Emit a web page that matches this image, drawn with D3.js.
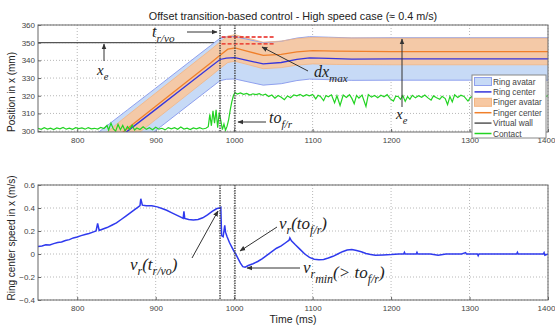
<!DOCTYPE html>
<html>
<head>
<meta charset="utf-8">
<script src="https://cdn.jsdelivr.net/npm/d3@7"></script>
<style>
  body { margin: 0; background: #fff; }
  svg { font-family: "Liberation Sans", Arial, sans-serif; }
</style>
</head>
<body>
<div id="chart"></div>
<script>
// ---- data ----
var xTicks = [800, 900, 1000, 1100, 1200, 1300, 1400];
var posTicks = [300, 310, 320, 330, 340, 350, 360];
var speedTicks = [-0.4, -0.2, 0, 0.2, 0.4, 0.6];

var virtualWall = 350;
var ringRadius = 12;
var fingerRadius = 7.5;
var tRvo = 982;   // t_r/vo
var toFr = 1001;  // to_f/r
var dxMaxLevels = [353.2, 349.3];
var dxMaxSpan = [984, 1052];

// ring center position (ms, mm)
var ringCenter = [
  [815, 283.2], [864, 300], [900, 312.3], [940, 326.1], [970, 336.4], [982, 340.5],
  [990, 341.3], [1001, 341.5], [1015, 340.1], [1037, 338], [1060, 338.8],
  [1080, 340.6], [1096, 341.4], [1120, 341.1], [1150, 340.7], [1200, 340.8],
  [1300, 340.8], [1400, 340.8]
];
// finger center position (ms, mm)
var fingerCenter = [
  [812, 282.5], [860, 300], [900, 314], [940, 328], [970, 338.5], [982, 342.9],
  [992, 346.3], [1001, 347], [1015, 345.4], [1037, 342.8], [1060, 343.4],
  [1080, 344.8], [1100, 345.5], [1130, 345.2], [1200, 345], [1400, 345]
];
// contact position (ms, mm)
var contact = [
  [750,301.6],[754,301.0],[758,301.9],[762,301.2],[766,301.7],[770,300.9],[774,301.8],[778,301.3],
  [782,302.1],[786,301.1],[790,301.7],[794,301.0],[798,301.9],[802,301.4],[806,301.8],[810,301.1],
  [814,302.0],[818,301.3],[822,301.6],[826,301.2],[830,302.1],[834,301.5],[838,303.2],[840,300.6],
  [843,304.5],[846,301.2],[849,300.0],[852,303.8],[855,300.8],[858,303.2],[861,300.2],[864,302.6],
  [867,301.0],[870,303.4],[873,300.6],[876,301.8],[880,300.9],[884,302.4],[888,301.0],[892,301.9],
  [896,300.8],[900,302.2],[904,301.1],[908,301.6],[912,300.7],[916,302.0],[920,301.3],[924,301.9],
  [928,301.0],[932,302.3],[936,301.2],[940,301.7],[944,300.9],[948,301.8],[952,301.3],[956,302.0],
  [960,301.2],[964,301.6],[967,302.5],[969,309.5],[971,303.0],[973,311.5],[975,304.5],[977,312.0],
  [979,302.0],[981,310.5],[983,306.0],[985,300.8],[987,304.0],[989,300.5],[991,302.8],[993,306.5],
  [995,312.0],[997,316.5],[999,320.0],[1001,321.8],[1004,321.0],[1008,321.6],[1012,320.8],[1016,321.3],
  [1020,320.4],[1024,321.1],[1028,320.6],[1032,321.2],[1036,320.3],[1040,320.9],[1044,319.6],[1048,320.4],
  [1052,318.6],[1056,320.1],[1060,319.2],[1064,317.8],[1068,319.9],[1072,318.9],[1076,320.5],[1080,320.0],
  [1084,320.8],[1088,319.7],[1092,320.6],[1096,319.9],[1100,320.7],[1104,318.2],[1107,320.3],[1110,319.6],
  [1114,317.2],[1117,320.1],[1120,319.4],[1124,320.5],[1128,316.0],[1131,320.0],[1135,314.5],[1139,320.4],
  [1143,319.0],[1147,320.6],[1150,318.5],[1153,315.5],[1156,320.2],[1159,318.6],[1163,320.4],[1168,314.0],
  [1171,320.7],[1175,319.2],[1179,320.1],[1183,318.9],[1187,320.3],[1191,319.4],[1195,320.6],[1199,318.2],
  [1203,317.0],[1206,319.8],[1209,319.6],[1212,318.0],[1215,320.1],[1218,316.8],[1221,319.5],[1224,318.0],
  [1227,320.2],[1231,318.8],[1235,320.0],[1239,319.1],[1243,320.4],[1247,318.8],[1251,317.5],[1254,319.9],
  [1258,318.9],[1262,318.0],[1265,319.7],[1269,318.4],[1272,315.0],[1275,319.6],[1278,316.5],[1281,320.5],
  [1285,319.0],[1289,320.3],[1293,319.6],[1298,317.0],[1301,318.9],[1305,320.1],[1309,319.2],[1313,320.6],
  [1317,319.7],[1321,320.2],[1325,319.0],[1329,320.4],[1333,319.5],[1337,320.0],[1341,317.5],[1344,319.8],
  [1348,318.6],[1352,320.3],[1356,319.4],[1360,320.1],[1364,319.0],[1368,320.5],[1372,319.6],[1376,320.2],
  [1380,319.3],[1384,320.4],[1388,319.8],[1392,320.3],[1396,319.5],[1400,320.0]
];
// ring center speed (ms, m/s)
var speed = [
  [750,0.065],[755,0.07],[760,0.08],[765,0.078],[770,0.09],[775,0.1],[780,0.105],[785,0.118],
  [790,0.125],[795,0.14],[800,0.148],[805,0.16],[810,0.17],[815,0.178],[820,0.19],[824,0.2],
  [826,0.265],[828,0.205],[832,0.215],[838,0.23],[844,0.25],[850,0.27],[856,0.3],[862,0.33],
  [868,0.36],[874,0.39],[878,0.41],[880,0.42],[881,0.48],[883,0.425],[888,0.42],[895,0.42],
  [902,0.41],[908,0.395],[914,0.38],[920,0.36],[926,0.34],[932,0.32],[935,0.31],[936,0.37],
  [937,0.31],[942,0.3],[948,0.295],[954,0.3],[960,0.315],[966,0.34],[972,0.37],[978,0.395],
  [982,0.4],[983,0.405],[984,0.16],[986,0.15],[988,0.25],[989,0.19],[991,0.15],[994,0.1],
  [997,0.06],[1000,0.02],[1002,0.0],[1005,-0.04],[1008,-0.08],[1011,-0.11],[1014,-0.115],[1018,-0.1],
  [1024,-0.085],[1030,-0.065],[1036,-0.04],[1042,-0.01],[1048,0.02],[1054,0.05],[1060,0.07],[1066,0.1],
  [1070,0.12],[1071,0.14],[1073,0.115],[1078,0.08],[1084,0.04],[1090,0.0],[1096,-0.03],[1102,-0.045],
  [1108,-0.05],[1114,-0.048],[1120,-0.035],[1126,-0.02],[1132,0.0],[1138,0.02],[1144,0.035],[1150,0.04],
  [1156,0.03],[1162,0.02],[1168,0.005],[1174,-0.005],[1180,-0.01],[1190,-0.008],[1200,-0.005],[1210,0.0],
  [1216,0.0],[1217,0.015],[1218,0.0],[1232,0.0],[1233,0.015],[1234,0.0],[1250,0.0],[1260,-0.01],
  [1270,0.0],[1290,0.0],[1295,0.012],[1296,0.0],[1310,0.0],[1311,-0.015],[1312,0.0],[1360,0.0],
  [1361,0.015],[1362,0.0],[1380,0.0],[1394,0.0],[1395,0.012],[1396,-0.01],[1400,0.0]
];

// ---- layout ----
const W = 555, H = 325;
const left = 38, right = 548;
const top1 = 25, bot1 = 132;
const top2 = 185, bot2 = 300;

var svg = d3.select("#chart").append("svg")
    .attr("width", W)
    .attr("height", H);

var defs = svg.append("defs");
defs.append("clipPath").attr("id", "clip1").append("rect")
    .attr("x", left).attr("y", top1).attr("width", right - left).attr("height", bot1 - top1);
defs.append("clipPath").attr("id", "clip2").append("rect")
    .attr("x", left).attr("y", top2).attr("width", right - left).attr("height", bot2 - top2);
var marker = defs.append("marker")
    .attr("id", "arrow")
    .attr("viewBox", "0 0 10 10")
    .attr("refX", 9).attr("refY", 5)
    .attr("markerWidth", 6).attr("markerHeight", 6)
    .attr("orient", "auto-start-reverse");
marker.append("path").attr("d", "M0,1 L10,5 L0,9 z").attr("fill", "#333");

// scales
const x = d3.scaleLinear().domain([750, 1400]).range([left, right]);
const yPos = d3.scaleLinear().domain([299.5, 360]).range([bot1, top1]);
const ySpd = d3.scaleLinear().domain([-0.4, 0.6]).range([bot2, top2]);

function drawFrame(yScale, ticks, y0, y1, fmt) {
    var g = svg.append("g");
    // grid
    g.selectAll(".gx").data(xTicks).enter().append("line")
        .attr("x1", d => x(d)).attr("x2", d => x(d))
        .attr("y1", y0).attr("y2", y1)
        .attr("stroke", "#b8b8b8").attr("stroke-dasharray", "1,2");
    g.selectAll(".gy").data(ticks).enter().append("line")
        .attr("x1", left).attr("x2", right)
        .attr("y1", d => yScale(d)).attr("y2", d => yScale(d))
        .attr("stroke", "#b8b8b8").attr("stroke-dasharray", "1,2");

    var ax = g.append("g")
        .attr("transform", "translate(0," + y1 + ")")
        .call(d3.axisBottom(x).tickValues(xTicks).tickFormat(d3.format("d"))
            .tickSizeInner(-3).tickSizeOuter(0).tickPadding(5));
    var ay = g.append("g")
        .attr("transform", "translate(" + left + ",0)")
        .call(d3.axisLeft(yScale).tickValues(ticks).tickFormat(fmt)
            .tickSizeInner(-3).tickSizeOuter(0).tickPadding(3));
    [ax, ay].forEach(function(a) {
        a.select(".domain").remove();
        a.selectAll("line").attr("stroke", "#666");
        a.selectAll("text").attr("fill", "#444").style("font-size", "8px")
            .style("font-family", "Liberation Sans, Arial, sans-serif");
    });
    // last label sits at the window edge, nudge it in
    ax.selectAll("text").filter(d => d === 1400).attr("dx", -2);
    return g;
}

drawFrame(yPos, posTicks, top1, bot1, d3.format("d"));
drawFrame(ySpd, speedTicks, top2, bot2, function(d) { return d === 0 ? "0" : d3.format(".1f")(d); });

// ---- top panel ----
var p1 = svg.append("g").attr("clip-path", "url(#clip1)");

// virtual wall
p1.append("line")
    .attr("x1", x(750)).attr("x2", x(1400))
    .attr("y1", yPos(virtualWall)).attr("y2", yPos(virtualWall))
    .attr("stroke", "#555").attr("stroke-width", 1.2);

var ringArea = d3.area()
    .x(d => x(d[0]))
    .y0(d => yPos(d[1] - ringRadius))
    .y1(d => yPos(d[1] + ringRadius));
var fingerArea = d3.area()
    .x(d => x(d[0]))
    .y0(d => yPos(d[1] - fingerRadius))
    .y1(d => yPos(d[1] + fingerRadius));
function offsetLine(yScale, off) {
    return d3.line().x(d => x(d[0])).y(d => yScale(d[1] + off));
}

p1.append("path").datum(ringCenter).attr("d", ringArea)
    .attr("fill", "#c7daf6");
p1.append("path").datum(fingerCenter).attr("d", fingerArea)
    .attr("fill", "#f7c8a2").attr("fill-opacity", 0.95);

[ringRadius, -ringRadius].forEach(function(off) {
    p1.append("path").datum(ringCenter).attr("d", offsetLine(yPos, off))
        .attr("fill", "none").attr("stroke", "#8fa0ee").attr("stroke-width", 1);
});
[fingerRadius, -fingerRadius].forEach(function(off) {
    p1.append("path").datum(fingerCenter).attr("d", offsetLine(yPos, off))
        .attr("fill", "none").attr("stroke", "#f3b583").attr("stroke-width", 0.8);
});

p1.append("path").datum(fingerCenter).attr("d", offsetLine(yPos, 0))
    .attr("fill", "none").attr("stroke", "#f07f2a").attr("stroke-width", 1.3);
p1.append("path").datum(ringCenter).attr("d", offsetLine(yPos, 0))
    .attr("fill", "none").attr("stroke", "#3535dc").attr("stroke-width", 1.3);
p1.append("path").datum(contact).attr("d", offsetLine(yPos, 0))
    .attr("fill", "none").attr("stroke", "#22d322").attr("stroke-width", 1.2);

// dx max dashed levels
dxMaxLevels.forEach(function(v) {
    p1.append("line")
        .attr("x1", x(dxMaxSpan[0])).attr("x2", x(dxMaxSpan[1]))
        .attr("y1", yPos(v)).attr("y2", yPos(v))
        .attr("stroke", "#e8201a").attr("stroke-width", 1.4).attr("stroke-dasharray", "4,2");
});

// ---- bottom panel ----
var p2 = svg.append("g").attr("clip-path", "url(#clip2)");
p2.append("path").datum(speed)
    .attr("d", d3.line().x(d => x(d[0])).y(d => ySpd(d[1])))
    .attr("fill", "none").attr("stroke", "#2f3aee").attr("stroke-width", 1.5);

// vertical event lines in both panels
[tRvo, toFr].forEach(function(t) {
    [[top1, bot1], [top2, bot2]].forEach(function(r) {
        svg.append("line")
            .attr("x1", x(t)).attr("x2", x(t))
            .attr("y1", r[0]).attr("y2", r[1])
            .attr("stroke", "#444").attr("stroke-width", 1.4).attr("stroke-dasharray", "1.5,1");
    });
});

// axes boxes
[[top1, bot1], [top2, bot2]].forEach(function(r) {
    svg.append("rect")
        .attr("x", left).attr("y", r[0])
        .attr("width", right - left).attr("height", r[1] - r[0])
        .attr("fill", "none").attr("stroke", "#666").attr("stroke-width", 1);
});

// ---- texts ----
svg.append("text")
    .attr("x", (left + right) / 2).attr("y", 20)
    .attr("text-anchor", "middle")
    .style("font-size", "10.8px").attr("fill", "#222")
    .text("Offset transition-based control - High speed case (\u2248 0.4 m/s)");

svg.append("text")
    .attr("transform", "translate(15,92) rotate(-90)")
    .attr("text-anchor", "middle")
    .style("font-size", "10px").attr("fill", "#222")
    .text("Position in x (mm)");

svg.append("text")
    .attr("transform", "translate(15,238) rotate(-90)")
    .attr("text-anchor", "middle")
    .style("font-size", "10px").attr("fill", "#222")
    .text("Ring center speed in x (m/s)");

svg.append("text")
    .attr("x", (left + right) / 2).attr("y", 323)
    .attr("text-anchor", "middle")
    .style("font-size", "10.5px").attr("fill", "#222")
    .text("Time (ms)");

// math-like annotations
function mathLabel(px, py, parts, size) {
    var t = svg.append("text")
        .attr("x", px).attr("y", py)
        .style("font-family", "Liberation Serif, DejaVu Serif, serif")
        .style("font-style", "italic")
        .style("font-size", size + "px")
        .attr("fill", "#222");
    parts.forEach(function(p) {
        var s = t.append("tspan").text(p[0]);
        if (p[1] === "sub") {
            s.attr("dy", size * 0.3).style("font-size", (size * 0.7) + "px");
        } else if (p[1] === "up") {
            s.attr("dy", -size * 0.3);
        }
    });
    return t;
}
function arrow(x1, y1, x2, y2) {
    svg.append("line")
        .attr("x1", x1).attr("y1", y1).attr("x2", x2).attr("y2", y2)
        .attr("stroke", "#333").attr("stroke-width", 1)
        .attr("marker-end", "url(#arrow)");
}

mathLabel(152, 37, [["t"], ["r/vo", "sub"]], 16);
arrow(187, 32, 217, 32);

mathLabel(97, 75, [["x"], ["e", "sub"]], 15);
arrow(104, 61, 104, 44);

mathLabel(314, 77, [["dx"], ["max", "sub"]], 16);
arrow(308, 71, 262, 47);

mathLabel(396, 119, [["x"], ["e", "sub"]], 15);
arrow(402, 107, 402, 39);

mathLabel(269, 123, [["to"], ["f/r", "sub"]], 16);
arrow(266, 122, 238, 122);

mathLabel(130, 270, [["v"], ["r", "sub"], ["(t", "up"], ["r/vo", "sub"], [")", "up"]], 17);
arrow(192, 258, 218, 211);

mathLabel(279, 229, [["v"], ["r", "sub"], ["(to", "up"], ["f/r", "sub"], [")", "up"]], 17);
arrow(277, 227, 240, 251);

mathLabel(303, 273, [["v"], ["r", "sub"], ["min", "sub"], ["(> to", "up"], ["f/r", "sub"], [")", "up"]], 17);
arrow(300, 268, 247, 268);

// ---- legend ----
var legendItems = [
  {name: "Ring avatar", type: "patch", fill: "#c7daf6", stroke: "#8fa0ee"},
  {name: "Ring center", type: "line", stroke: "#3535dc"},
  {name: "Finger avatar", type: "patch", fill: "#f7c8a2", stroke: "#f3b583"},
  {name: "Finger center", type: "line", stroke: "#f07f2a"},
  {name: "Virtual wall", type: "line", stroke: "#555"},
  {name: "Contact", type: "line", stroke: "#22d322"}
];
var lg = svg.append("g").attr("transform", "translate(472,75)");
lg.append("rect")
    .attr("width", 74).attr("height", 63)
    .attr("fill", "#fff").attr("stroke", "#888");
legendItems.forEach(function(d, i) {
    var cy = 6.5 + i * 10.4;
    if (d.type === "patch") {
        lg.append("rect")
            .attr("x", 2.5).attr("y", cy - 4)
            .attr("width", 17).attr("height", 8)
            .attr("fill", d.fill).attr("stroke", d.stroke);
    } else {
        lg.append("line")
            .attr("x1", 2.5).attr("x2", 19.5)
            .attr("y1", cy).attr("y2", cy)
            .attr("stroke", d.stroke).attr("stroke-width", 1.5);
    }
    lg.append("text")
        .attr("x", 21).attr("y", cy + 3)
        .style("font-size", "8.3px").attr("fill", "#444")
        .text(d.name);
});
</script>
</body>
</html>
